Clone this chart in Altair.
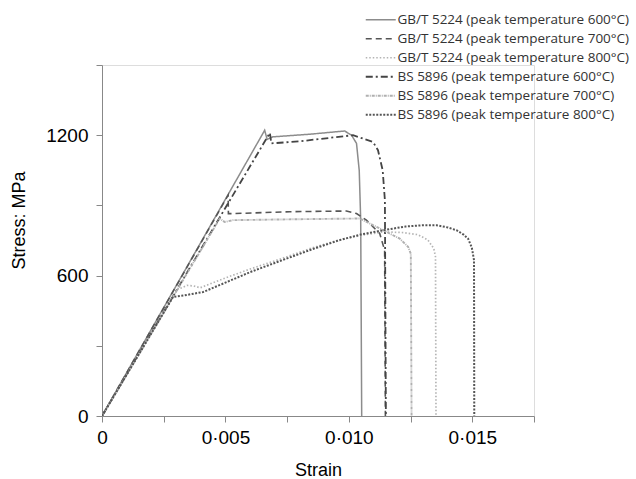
import altair as alt
import pandas as pd

series_names = [
    "GB/T 5224 (peak temperature 600°C)",
    "GB/T 5224 (peak temperature 700°C)",
    "GB/T 5224 (peak temperature 800°C)",
    "BS 5896 (peak temperature 600°C)",
    "BS 5896 (peak temperature 700°C)",
    "BS 5896 (peak temperature 800°C)",
]

gb600_strain = [0, 0.00659, 0.00669, 0.00692, 0.0084, 0.00983, 0.01011, 0.01031, 0.01042, 0.01048, 0.01052]
gb600_stress = [0, 1221, 1182, 1193, 1204, 1218, 1200, 1165, 1050, 837, 0]

gb700_strain = [0, 0.00511, 0.00512, 0.00531, 0.0076, 0.0099, 0.01031, 0.01071, 0.01125, 0.01145, 0.01148]
gb700_stress = [0, 944, 865, 865, 873, 876, 865, 837, 780, 708, 0]

gb800_strain = [0, 0.00305, 0.00345, 0.0037, 0.00398, 0.005, 0.006, 0.0072, 0.0085, 0.0096, 0.0105,
                0.0114, 0.0122, 0.0128, 0.0132, 0.01344, 0.01351, 0.01353]
gb800_stress = [0, 540, 558, 556, 548, 590, 628, 670, 718, 752, 772, 787, 784, 775, 752, 716, 680, 0]

bs600_strain = [0, 0.0068, 0.00686, 0.00801, 0.01017, 0.01098, 0.01118, 0.01137, 0.01146, 0.0115]
bs600_stress = [0, 1210, 1165, 1174, 1200, 1171, 1136, 1050, 922, 0]

bs700_strain = [0, 0.00477, 0.00497, 0.00531, 0.0080, 0.01044, 0.01139, 0.01206, 0.0124, 0.01251, 0.01254]
bs700_stress = [0, 844, 829, 837, 841, 844, 794, 758, 723, 694, 0]

bs800_strain = [0, 0.00288, 0.0033, 0.0041, 0.005, 0.006, 0.0072, 0.0085, 0.0096, 0.0105, 0.0114,
                0.0123, 0.013, 0.01355, 0.014, 0.01436, 0.01465, 0.01483, 0.01498, 0.01507, 0.01508]
bs800_stress = [0, 509, 515, 530, 570, 615, 662, 712, 751, 776, 794, 810, 815, 815, 806, 794, 775,
                758, 720, 666, 0]

strains = [gb600_strain, gb700_strain, gb800_strain, bs600_strain, bs700_strain, bs800_strain]
stresses = [gb600_stress, gb700_stress, gb800_stress, bs600_stress, bs700_stress, bs800_stress]

rows = []
for name, xs, ys in zip(series_names, strains, stresses):
    for i, (x, y) in enumerate(zip(xs, ys)):
        rows.append({"series": name, "strain": x, "stress": y, "idx": i})
df = pd.DataFrame(rows)

colors = ["#8c8c8c", "#555555", "#b4b4b4", "#444444", "#b0b0b0", "#555555"]
dashes = [[1, 0], [6, 4], [1.5, 2], [7, 3, 2, 3], [3, 1, 1, 1], [2, 1.5]]
widths = [1.5, 2, 1.5, 1.6, 1.5, 2]

x_ticks = [0, 0.0025, 0.005, 0.0075, 0.01, 0.0125, 0.015, 0.0175]
y_ticks = [0, 300, 600, 900, 1200, 1500]

font = "Open Sans"

legend_cfg = dict(title=None, orient="none", legendX=272, legendY=-52,
                  symbolType="M-3,0H3", symbolSize=100, symbolFillColor="transparent",
                  symbolStrokeWidth=1.5, labelFontSize=13.5,
                  labelFont=font, labelColor="#333333",
                  rowPadding=4, labelOffset=10, labelLimit=400)

chart = alt.Chart(df).mark_line(clip=True).encode(
    x=alt.X("strain:Q",
            scale=alt.Scale(domain=[0, 0.0175], nice=False, zero=True),
            axis=alt.Axis(title="Strain", values=x_ticks, grid=False,
                          labelExpr="round(datum.value*10000) % 50 == 0 ? (datum.value == 0 ? '0' : replace(format(datum.value, '.3f'), '.', '·')) : ''",
                          labelFontSize=19, titleFontSize=18, titleFontWeight="normal",
                          tickSize=6, labelPadding=6, titleY=59, titleBaseline="alphabetic",
                          labelFlush=False)),
    y=alt.Y("stress:Q",
            scale=alt.Scale(domain=[0, 1500], nice=False),
            axis=alt.Axis(title="Stress: MPa", values=y_ticks, grid=False,
                          labelExpr="datum.value % 600 == 0 ? datum.value : ''",
                          labelFontSize=19, titleFontSize=18, titleFontWeight="normal",
                          tickSize=6, labelPadding=8, titleX=-74, titleY=155,
                          labelFlush=False)),
    color=alt.Color("series:N", sort=series_names,
                    scale=alt.Scale(domain=series_names, range=colors),
                    legend=alt.Legend(**legend_cfg)),
    strokeDash=alt.StrokeDash("series:N", sort=series_names,
                              scale=alt.Scale(domain=series_names, range=dashes),
                              legend=alt.Legend(**legend_cfg)),
    strokeWidth=alt.StrokeWidth("series:N", sort=series_names,
                                scale=alt.Scale(domain=series_names, range=widths),
                                legend=None),
    order="idx:Q",
).properties(
    width=432, height=351,
    autosize=alt.AutoSizeParams(type="none"),
    padding={"left": 102, "top": 65, "right": 102, "bottom": 63},
).configure_view(
    stroke=None
).configure_axis(
    domainColor="#444444", tickColor="#444444", labelColor="#333333", titleColor="#333333",
    labelFont=font, titleFont=font, domainWidth=1.2, tickWidth=1.2
).configure(background="white")

chart.save("out.html", embed_options={"renderer": "svg", "actions": False})
